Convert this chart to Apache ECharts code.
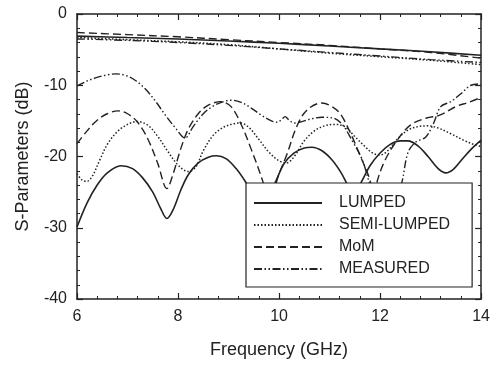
<!DOCTYPE html>
<html>
<head>
<meta charset="utf-8">
<script src="https://cdn.jsdelivr.net/npm/echarts@6/dist/echarts.min.js"></script>
<style>
  html, body { margin: 0; padding: 0; background: #fff; }
  #chart { width: 493px; height: 368px; }
</style>
</head>
<body>
<div id="chart"></div>
<script>
// frequency axis (GHz) and S-parameter axis (dB)
const xTicks = [6, 8, 10, 12, 14];
const yTicks = [-40, -30, -20, -10, 0];
const legendNames = ['LUMPED', 'SEMI-LUMPED', 'MoM', 'MEASURED'];

// upper curves (transmission)
const lumpedUpper = [[6,-3.1],[7,-3.3],[8,-3.5],[9,-3.8],[10,-4.1],[11,-4.5],[12,-4.9],[13,-5.3],[14,-5.8]];
const semiUpper = [[6,-3.3],[7,-3.6],[8,-3.9],[9,-4.3],[10,-4.9],[11,-5.5],[12,-6.0],[13,-6.5],[14,-7.1]];
const momUpper = [[6,-2.6],[7,-2.9],[8,-3.2],[9,-3.6],[10,-4.0],[11,-4.4],[12,-4.9],[13,-5.4],[14,-6.2]];
const measUpper = [[6,-3.5],[7,-3.7],[8,-4.0],[9,-4.4],[10,-4.9],[11,-5.4],[12,-5.9],[13,-6.4],[14,-6.8]];

// lower curves (reflection)
const lumpedLower = [[6.0,-29.9],[6.2,-26.5],[6.4,-24.0],[6.6,-22.3],[6.87,-21.3],[7.1,-21.7],[7.3,-23.0],[7.5,-25.0],
  [7.65,-27.2],[7.78,-28.7],[7.9,-27.5],[8.05,-24.8],[8.2,-22.6],[8.4,-20.9],[8.6,-20.1],[8.76,-19.9],[8.95,-20.3],
  [9.15,-21.7],[9.35,-23.7],[9.55,-26.0],[9.7,-26.5],[9.92,-23.7],[10.1,-21.0],[10.3,-19.5],[10.5,-18.8],[10.65,-18.7],
  [10.85,-19.2],[11.05,-20.5],[11.23,-22.3],[11.4,-24.5],[11.5,-25.0],[11.62,-23.7],[11.8,-21.3],[12.0,-19.5],
  [12.2,-18.3],[12.4,-17.8],[12.55,-17.8],[12.75,-18.5],[12.95,-20.0],[13.15,-21.7],[13.3,-22.3],[13.45,-21.8],
  [13.6,-20.6],[13.8,-19.0],[14.0,-17.7]];
const semiLower = [[6.0,-22.4],[6.1,-23.3],[6.19,-23.5],[6.3,-22.8],[6.45,-20.5],[6.6,-18.3],[6.8,-16.5],[7.0,-15.5],
  [7.19,-15.1],[7.4,-15.6],[7.6,-17.2],[7.8,-19.3],[8.0,-21.2],[8.2,-22.1],[8.35,-21.5],[8.5,-19.2],[8.7,-17.0],
  [8.9,-15.9],[9.1,-15.4],[9.24,-15.3],[9.4,-15.9],[9.6,-17.6],[9.8,-19.4],[10.0,-20.6],[10.15,-20.9],[10.3,-20.0],
  [10.5,-17.8],[10.7,-16.4],[10.9,-15.7],[11.1,-15.5],[11.3,-15.8],[11.5,-17.2],[11.7,-18.6],[11.85,-19.5],
  [12.0,-19.8],[12.15,-19.2],[12.35,-17.5],[12.55,-16.3],[12.75,-15.8],[12.95,-15.7],[13.15,-16.0],[13.4,-16.8],
  [13.65,-17.7],[13.85,-18.3],[14.0,-18.6]];
const momLower = [[6.0,-18.2],[6.2,-16.4],[6.4,-14.9],[6.6,-14.0],[6.81,-13.6],[7.0,-14.0],[7.2,-15.2],[7.4,-17.5],
  [7.6,-21.0],[7.78,-24.5],[7.9,-22.5],[8.05,-19.0],[8.2,-16.2],[8.4,-14.0],[8.6,-12.8],[8.85,-12.3],[9.05,-13.0],
  [9.25,-15.5],[9.45,-19.0],[9.67,-23.3],[9.8,-26.5],[9.9,-25.5],[9.96,-23.3],[10.16,-19.6],[10.35,-15.8],
  [10.55,-13.5],[10.84,-12.5],[11.0,-12.8],[11.2,-13.9],[11.4,-16.5],[11.6,-19.8],[11.8,-23.3],[11.87,-26.0],
  [11.95,-23.3],[12.1,-20.5],[12.34,-17.7],[12.6,-15.6],[12.92,-14.6],[13.18,-14.2],[13.5,-13.0],[13.75,-12.4],
  [14.0,-11.7]];
const measLower = [[6.0,-10.1],[6.2,-9.4],[6.4,-8.9],[6.6,-8.55],[6.77,-8.4],[6.95,-8.6],[7.15,-9.3],[7.35,-10.5],
  [7.55,-12.2],[7.75,-14.2],[7.95,-16.0],[8.14,-17.4],[8.3,-15.8],[8.5,-14.0],[8.7,-12.9],[8.9,-12.3],[9.05,-12.1],
  [9.25,-12.4],[9.45,-13.2],[9.65,-14.2],[9.85,-15.0],[9.97,-15.2],[10.05,-14.8],[10.12,-14.4],[10.2,-14.9],
  [10.3,-15.3],[10.45,-15.1],[10.65,-14.7],[10.85,-14.5],[11.07,-14.6],[11.25,-15.5],[11.45,-17.8],[11.65,-20.5],
  [11.8,-24.0],[12.0,-28.0],[12.2,-28.0],[12.35,-25.0],[12.43,-23.7],[12.55,-19.5],[12.7,-18.0],[12.9,-17.3],
  [13.05,-15.5],[13.2,-13.0],[13.4,-12.3],[13.6,-11.2],[13.8,-10.0],[14.0,-9.8]];

const ink = '#222';
const font = 'Liberation Sans, Arial, Helvetica, sans-serif';

const styles = {
  'LUMPED': { type: 'solid', width: 1.6 },
  'SEMI-LUMPED': { type: [1.5, 2], width: 1.5 },
  'MoM': { type: [8, 4], width: 1.4 },
  'MEASURED': { type: [8, 2.5, 1.5, 2.5, 1.5, 2.5], width: 1.4 }
};

function curve(name, data){
  return {
    name: name,
    type: 'line',
    data: data,
    symbol: 'none',
    smooth: 0.35,
    lineStyle: { color: ink, width: styles[name].width, type: styles[name].type },
    itemStyle: { color: ink },
    emphasis: { disabled: true }
  };
}

function frameAxis(pos, min, max, interval){
  return {
    type: 'value',
    position: pos,
    min: min,
    max: max,
    interval: interval,
    axisLine: { show: true, onZero: false, lineStyle: { color: ink, width: 1.5 } },
    axisTick: { show: true, inside: true, length: 6, lineStyle: { color: ink, width: 1.2 } },
    minorTick: { show: true, splitNumber: 5, length: 3, lineStyle: { color: ink, width: 1 } },
    splitLine: { show: false },
    axisLabel: { show: false }
  };
}

const chart = echarts.init(document.getElementById('chart'), null, { renderer: 'canvas' });

const bottomX = frameAxis('bottom', xTicks[0], xTicks[xTicks.length - 1], 2);
bottomX.axisLabel = { show: true, margin: 10, fontSize: 16, color: ink, fontFamily: font };
bottomX.name = 'Frequency (GHz)';
bottomX.nameLocation = 'middle';
bottomX.nameGap = 42;
bottomX.nameTextStyle = { fontSize: 18, color: ink, fontFamily: font };

const leftY = frameAxis('left', yTicks[0], yTicks[yTicks.length - 1], 10);
leftY.axisLabel = { show: true, margin: 10, fontSize: 16, color: ink, fontFamily: font };
leftY.name = 'S-Parameters (dB)';
leftY.nameLocation = 'middle';
leftY.nameGap = 45;
leftY.nameTextStyle = { fontSize: 18, color: ink, fontFamily: font };

const option = {
  animation: false,
  backgroundColor: '#fff',
  grid: { left: 77, right: 6, top: 14, bottom: 69, containLabel: false },
  xAxis: [bottomX, frameAxis('top', 6, 14, 2)],
  yAxis: [leftY, frameAxis('right', -40, 0, 10)],
  legend: {
    data: legendNames,
    orient: 'vertical',
    left: 246,
    top: 183,
    backgroundColor: '#fff',
    borderColor: ink,
    borderWidth: 1.2,
    borderRadius: 0,
    padding: [12, 22, 10, 7],
    itemWidth: 68,
    itemHeight: 14,
    itemGap: 6,
    selectedMode: false,
    // hide the marker circle, keep only the line sample
    itemStyle: { color: 'rgba(0,0,0,0)', borderColor: 'rgba(0,0,0,0)', borderWidth: 0 },
    textStyle: { fontSize: 16, lineHeight: 14, color: ink, fontFamily: font, padding: [0, 0, 0, 12] }
  },
  series: [
    curve('LUMPED', lumpedUpper),
    curve('SEMI-LUMPED', semiUpper),
    curve('MoM', momUpper),
    curve('MEASURED', measUpper),
    curve('LUMPED', lumpedLower),
    curve('SEMI-LUMPED', semiLower),
    curve('MoM', momLower),
    curve('MEASURED', measLower)
  ]
};

chart.setOption(option);
</script>
</body>
</html>
